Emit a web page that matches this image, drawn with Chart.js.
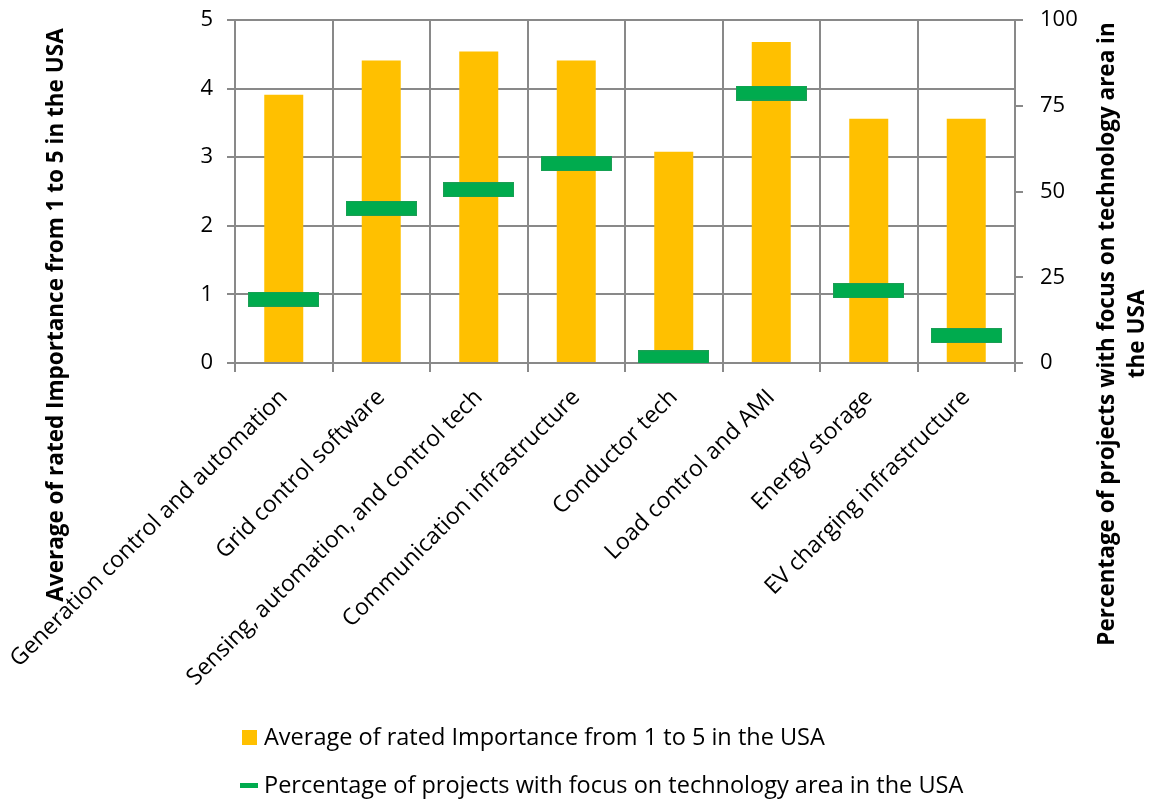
<!DOCTYPE html>
<html>
<head>
<meta charset="utf-8">
<script src="https://cdn.jsdelivr.net/npm/chart.js@4.4.1/dist/chart.umd.min.js"></script>
<style>
  html, body { margin: 0; padding: 0; background: #ffffff; }
  #wrap { position: relative; width: 1151px; height: 799px; }
</style>
</head>
<body>
<div id="wrap"><canvas id="chart" width="1151" height="799"></canvas></div>
<script>
// Technology areas along the category axis
const categories = [
  'Generation control and automation',
  'Grid control software',
  'Sensing, automation, and control tech',
  'Communication infrastructure',
  'Conductor tech',
  'Load control and AMI',
  'Energy storage',
  'EV charging infrastructure'
];

// Average rated importance (scale 1–5), left axis
const importance = [3.91, 4.41, 4.54, 4.41, 3.08, 4.68, 3.56, 3.56];

// Share of projects focusing on each area (%), right axis
const projectShare = [18.6, 45.1, 50.5, 58.1, 1.5, 78.7, 21.1, 8.0];

const importanceLabel = 'Average of rated Importance from 1 to 5 in the USA';
const shareLabel = 'Percentage of projects with focus on technology area in the USA';
const rightTitleLines = ['Percentage of projects with focus on technology area in', 'the USA'];

const FONT = "'Open Sans', 'DejaVu Sans', sans-serif";
const GRID = '#898989';
const BAR_COLOR = '#FFC000';
const MARK_COLOR = '#00AB4E';
const MARK_EDGE = '#1C9E55';

// Wide flat marker used for the percentage series
function makeDash(w, h) {
  const c = document.createElement('canvas');
  c.width = w; c.height = h;
  const g = c.getContext('2d');
  g.fillStyle = MARK_COLOR;
  g.fillRect(0, 0, w, h);
  g.strokeStyle = MARK_EDGE;
  g.lineWidth = 1;
  g.strokeRect(0.5, 0.5, w - 1, h - 1);
  return c;
}
const dashMarker = makeDash(71, 15);

// Axis titles and legend drawn on the canvas
const decorations = {
  id: 'decorations',
  afterDraw(chart) {
    const ctx = chart.ctx;
    ctx.save();
    ctx.fillStyle = '#000000';
    ctx.textAlign = 'center';
    ctx.textBaseline = 'middle';
    ctx.font = "bold 22.5px " + FONT;

    // left axis title
    ctx.save();
    ctx.translate(57, 315);
    ctx.rotate(-Math.PI / 2);
    ctx.fillText(importanceLabel, 0, 0);
    ctx.restore();

    // right axis title, two lines
    ctx.save();
    ctx.translate(1123, 334);
    ctx.rotate(-Math.PI / 2);
    ctx.fillText(rightTitleLines[0], 0, -15);
    ctx.fillText(rightTitleLines[1], 0, 15);
    ctx.restore();

    // legend
    const ds = chart.data.datasets;
    const bar = ds.find(d => d.type === 'bar');
    const line = ds.find(d => d.type === 'line');
    ctx.textAlign = 'left';
    ctx.textBaseline = 'alphabetic';
    ctx.font = "23.5px " + FONT;
    ctx.fillStyle = bar.backgroundColor;
    ctx.fillRect(242, 730, 15, 15);
    ctx.fillStyle = MARK_COLOR;
    ctx.fillRect(240, 783, 18, 5);
    ctx.fillStyle = '#000000';
    ctx.fillText(bar.label, 264, 745);
    ctx.fillText(line.label, 264, 793);
    ctx.restore();
  }
};

// keep the plot area fixed regardless of tick label overhang
function fixVertical(width) {
  return function (scale) {
    scale.width = width;
    scale.paddingTop = 0;
    scale.paddingBottom = 0;
  };
}

new Chart(document.getElementById('chart'), {
  data: {
    labels: categories,
    datasets: [
      {
        type: 'line',
        label: shareLabel,
        data: projectShare,
        yAxisID: 'y1',
        showLine: false,
        pointStyle: dashMarker,
        pointRadius: 8,
        pointHoverRadius: 8,
        order: 0
      },
      {
        type: 'bar',
        label: importanceLabel,
        data: importance,
        yAxisID: 'y',
        backgroundColor: BAR_COLOR,
        borderWidth: 0,
        categoryPercentage: 0.8,
        barPercentage: 0.5,
        order: 1
      }
    ]
  },
  options: {
    responsive: false,
    animation: false,
    devicePixelRatio: 1,
    layout: { padding: { top: 20, left: 0, right: 0, bottom: 0 } },
    plugins: {
      legend: { display: false },
      tooltip: { enabled: false },
      title: { display: false }
    },
    scales: {
      x: {
        offset: true,
        grid: { offset: true, color: GRID, lineWidth: 2, tickLength: 9, drawTicks: true },
        border: { color: GRID, width: 2 },
        ticks: {
          color: '#000000',
          font: { family: FONT, size: 23 },
          minRotation: 45,
          maxRotation: 45,
          autoSkip: false,
          padding: 12
        },
        afterFit(scale) {
          scale.height = 436;
          scale.paddingLeft = 0;
          scale.paddingRight = 0;
        }
      },
      y: {
        position: 'left',
        min: 0,
        max: 5,
        grid: { color: GRID, lineWidth: 2, tickLength: 8 },
        border: { color: GRID, width: 2 },
        ticks: {
          stepSize: 1,
          color: '#000000',
          font: { family: FONT, size: 22 },
          padding: 14
        },
        afterFit: fixVertical(235)
      },
      y1: {
        position: 'right',
        min: 0,
        max: 100,
        grid: { drawOnChartArea: false, color: GRID, lineWidth: 2, tickLength: 8 },
        border: { color: GRID, width: 2 },
        ticks: {
          stepSize: 25,
          color: '#000000',
          font: { family: FONT, size: 22 },
          padding: 17
        },
        afterFit: fixVertical(136)
      }
    }
  },
  plugins: [decorations]
});
</script>
</body>
</html>
